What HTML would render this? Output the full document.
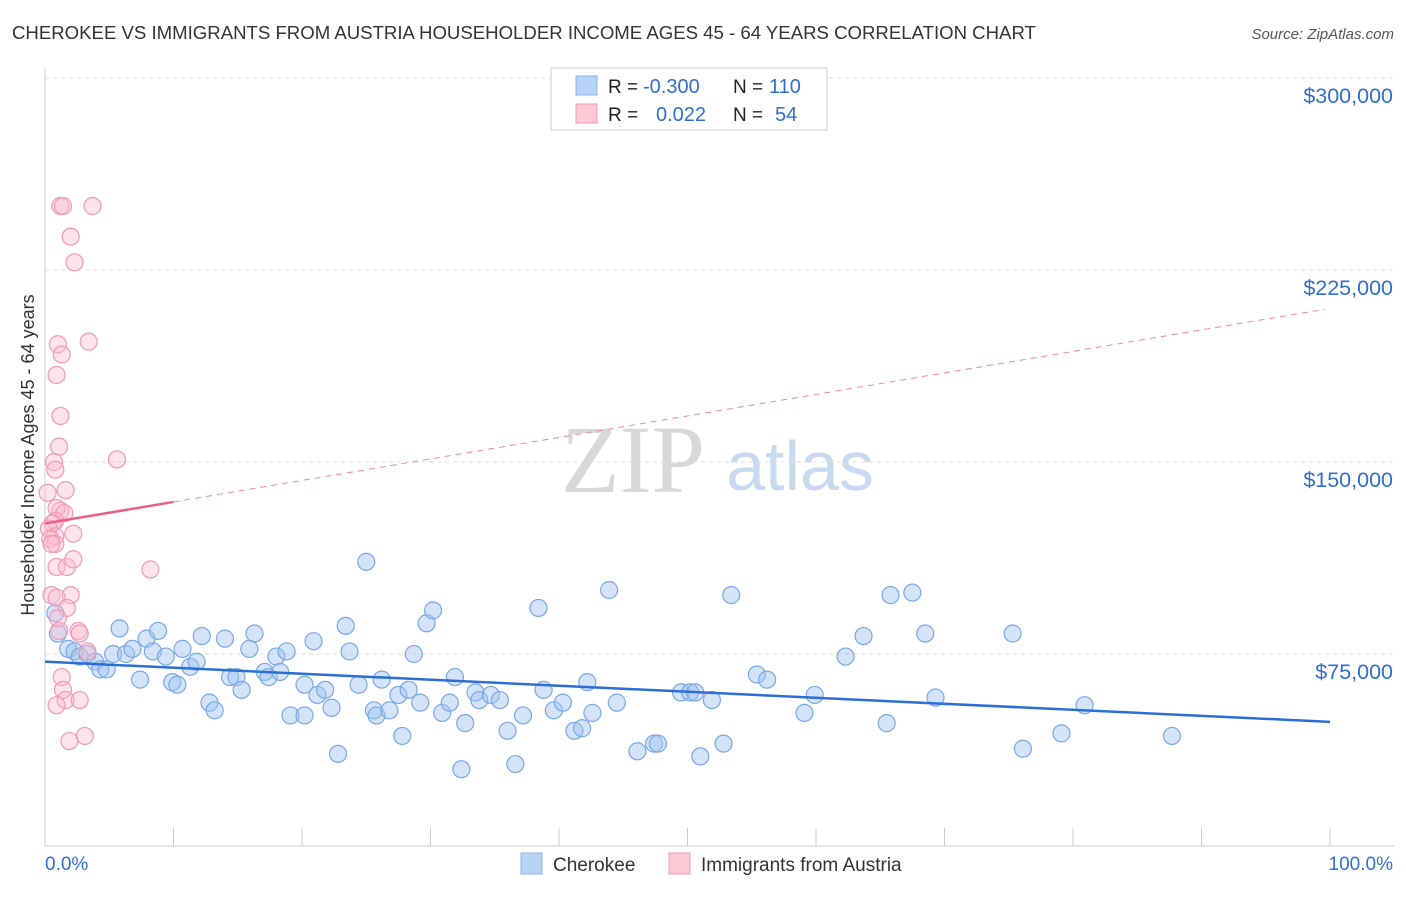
<!DOCTYPE html>
<html><head><meta charset="utf-8">
<style>
body{margin:0;background:#fff;font-family:"Liberation Sans",sans-serif;}
svg text{font-family:"Liberation Sans",sans-serif;}
</style></head>
<body>
<svg id="chart" width="1406" height="892" xmlns="http://www.w3.org/2000/svg">
<text x="12" y="39" font-size="18.6" fill="#333">CHEROKEE VS IMMIGRANTS FROM AUSTRIA HOUSEHOLDER INCOME AGES 45 - 64 YEARS CORRELATION CHART</text>
<text x="1394" y="39" font-size="15" fill="#555" text-anchor="end" font-style="italic">Source: ZipAtlas.com</text>
<text x="34" y="455" font-size="18" fill="#333" text-anchor="middle" transform="rotate(-90 34 455)">Householder Income Ages 45 - 64 years</text>
<g>
<text x="633" y="492" font-size="96" fill="#d8d8d8" text-anchor="middle" style="font-family:'Liberation Serif',serif">ZIP</text>
<text x="800" y="490" font-size="70" fill="#c8daf0" text-anchor="middle">atlas</text>
</g>
<g id="grid"></g><g id="axes"></g><g id="pts"></g><g id="trends"></g>
<g>
<rect x="551" y="68" width="276" height="62" fill="#fff" stroke="#ccc"/>
<rect x="576" y="76" width="21" height="19" fill="#b8d3f5" stroke="#8ab4e8"/>
<rect x="576" y="104" width="21" height="19" fill="#fbc9d6" stroke="#f09ab2"/>
<text x="608" y="93" font-size="19" fill="#222">R = </text>
<text x="643" y="93" font-size="20" fill="#2f6fd1">-0.300</text>
<text x="733" y="93" font-size="19" fill="#222">N = </text>
<text x="769" y="93" font-size="20" fill="#2f6fd1">110</text>
<text x="608" y="121" font-size="19" fill="#222">R = </text>
<text x="656" y="121" font-size="20" fill="#2f6fd1">0.022</text>
<text x="733" y="121" font-size="19" fill="#222">N = </text>
<text x="775" y="121" font-size="20" fill="#2f6fd1">54</text>
</g>
<g>
<rect x="521" y="853" width="21" height="21" fill="#b8d3f5" stroke="#8ab4e8"/>
<text x="553" y="871" font-size="19" fill="#333">Cherokee</text>
<rect x="669" y="853" width="21" height="21" fill="#fbc9d6" stroke="#f09ab2"/>
<text x="701" y="871" font-size="19" fill="#333">Immigrants from Austria</text>
</g>
</svg>
<script>
const yTicks=[75000,150000,225000,300000];
const yTickLabels=["$75,000","$150,000","$225,000","$300,000"];
const cherokeeX=[0.8,1,1.8,2.3,2.7,3.3,3.9,4.3,4.8,5.3,5.8,6.3,6.8,7.4,7.9,8.4,8.8,9.4,9.9,10.3,10.7,11.3,11.8,12.2,12.8,13.2,14,14.4,14.9,15.3,15.9,16.3,17.1,17.4,18,18.3,18.8,19.1,20.2,20.2,20.9,21.2,21.8,22.3,22.8,23.4,23.7,24.4,25,25.6,25.8,26.2,26.8,27.5,27.8,28.3,28.7,29.2,29.7,30.2,30.9,31.5,31.9,32.4,32.7,33.5,33.8,34.7,35.4,36,36.6,37.2,38.4,38.8,39.6,40.3,41.2,41.8,42.2,42.6,43.9,44.5,46.1,47.4,47.7,49.5,50.2,50.6,51,51.9,52.8,53.4,55.4,56.2,59.1,59.9,62.3,63.7,65.5,65.8,67.5,68.5,69.3,75.3,76.1,79.1,80.9,87.7];
const cherokeeY=[91,83,77,76,74,75,72,69,69,75,85,75,77,65,81,76,84,74,64,63,77,70,72,82,56,53,81,66,66,61,77,83,68,66,74,68,76,51,63,51,80,59,61,54,36,86,76,63,111,53,51,65,53,59,43,61,75,56,87,92,52,56,66,30,48,60,57,59,57,45,32,51,93,61,53,56,45,46,64,52,100,56,37,40,40,60,60,60,35,57,40,98,67,65,52,59,74,82,48,98,99,83,58,83,38,44,55,43,53];
const austriaX=[1.2,1.4,3.7,2,2.3,3.4,1,1.3,0.9,1.2,1.1,5.6,0.7,0.8,1.6,0.2,1.2,0.9,1.5,0.8,0.6,0.3,0.8,0.4,2.2,0.8,0.5,0.9,1.7,8.2,2.2,2,0.5,0.9,1.7,1,2.6,2.7,1.1,3.3,1.3,1.4,1.6,2.7,0.9,1.9,3.1];
const austriaY=[250,250,250,238,228,197,196,192,184,168,156,151,150,147,139,138,131,132,130,127,126,124,121,120,122,118,118,109,109,108,112,98,98,97,93,89,84,83,84,76,66,61,57,57,55,41,43];
const trendBlue=[72000,48500];
const trendPink=[126000,210000];
const X0=45,X1=1330,Yb=846,pxPer=192/75000;
const sx=p=>X0+p/100*(X1-X0);
const sy=v=>Yb-v*pxPer;
const NS="http://www.w3.org/2000/svg";
function mk(tag,attrs,parent){const e=document.createElementNS(NS,tag);for(const k in attrs)e.setAttribute(k,attrs[k]);parent.appendChild(e);return e;}
const grid=document.getElementById('grid'),axes=document.getElementById('axes'),pts=document.getElementById('pts'),tr=document.getElementById('trends');
yTicks.forEach((t,i)=>{
 const l=mk('line',{x1:X0,x2:1394,y1:sy(t),y2:sy(t),stroke:'#ddd','stroke-dasharray':'4,4'},grid);
 
 
 const tx=mk('text',{x:1393,y:sy(t)+25,'font-size':21.5,fill:'#2f6fd1','text-anchor':'end'},axes);
 tx.textContent=yTickLabels[i];
 
 
});
mk('line',{x1:X0,x2:X0,y1:68,y2:846,stroke:'#ccc'},axes);
mk('line',{x1:X0,x2:1394,y1:846,y2:846,stroke:'#ccc'},axes);
for(let i=1;i<=10;i++){const x=sx(i*10);mk('line',{x1:x,x2:x,y1:828,y2:846,stroke:'#ccc'},axes);}
let t0=mk('text',{x:45,y:870,'font-size':19,fill:'#2f6fd1'},axes);t0.textContent='0.0%';


let t1=mk('text',{x:1393,y:870,'font-size':19,fill:'#2f6fd1','text-anchor':'end'},axes);t1.textContent='100.0%';


cherokeeX.forEach((x,i)=>{const c=mk('circle',{cx:sx(x),cy:sy(cherokeeY[i]*1000),r:8.5,fill:'rgba(160,196,240,0.45)',stroke:'#7aa8e3','stroke-width':1.2},pts);
 
 });
austriaX.forEach((x,i)=>{const c=mk('circle',{cx:sx(x),cy:sy(austriaY[i]*1000),r:8.5,fill:'rgba(250,185,205,0.4)',stroke:'#f09ab2','stroke-width':1.2},pts);
 
 });
const bl=mk('line',{x1:sx(0),y1:sy(trendBlue[0]),x2:sx(100),y2:sy(trendBlue[1]),stroke:'#2a6fd6','stroke-width':2.5},tr);


const pAt=p=>trendPink[0]+(trendPink[1]-trendPink[0])*p/100;
const pd=mk('line',{x1:sx(10),y1:sy(pAt(10)),x2:sx(99.6),y2:sy(pAt(99.6)),stroke:'#e88aa6','stroke-width':1,'stroke-dasharray':'6,5'},tr);


const ps=mk('line',{x1:sx(0),y1:sy(pAt(0)),x2:sx(10),y2:sy(pAt(10)),stroke:'#e8608a','stroke-width':2.5},tr);


</script>
</body></html>
